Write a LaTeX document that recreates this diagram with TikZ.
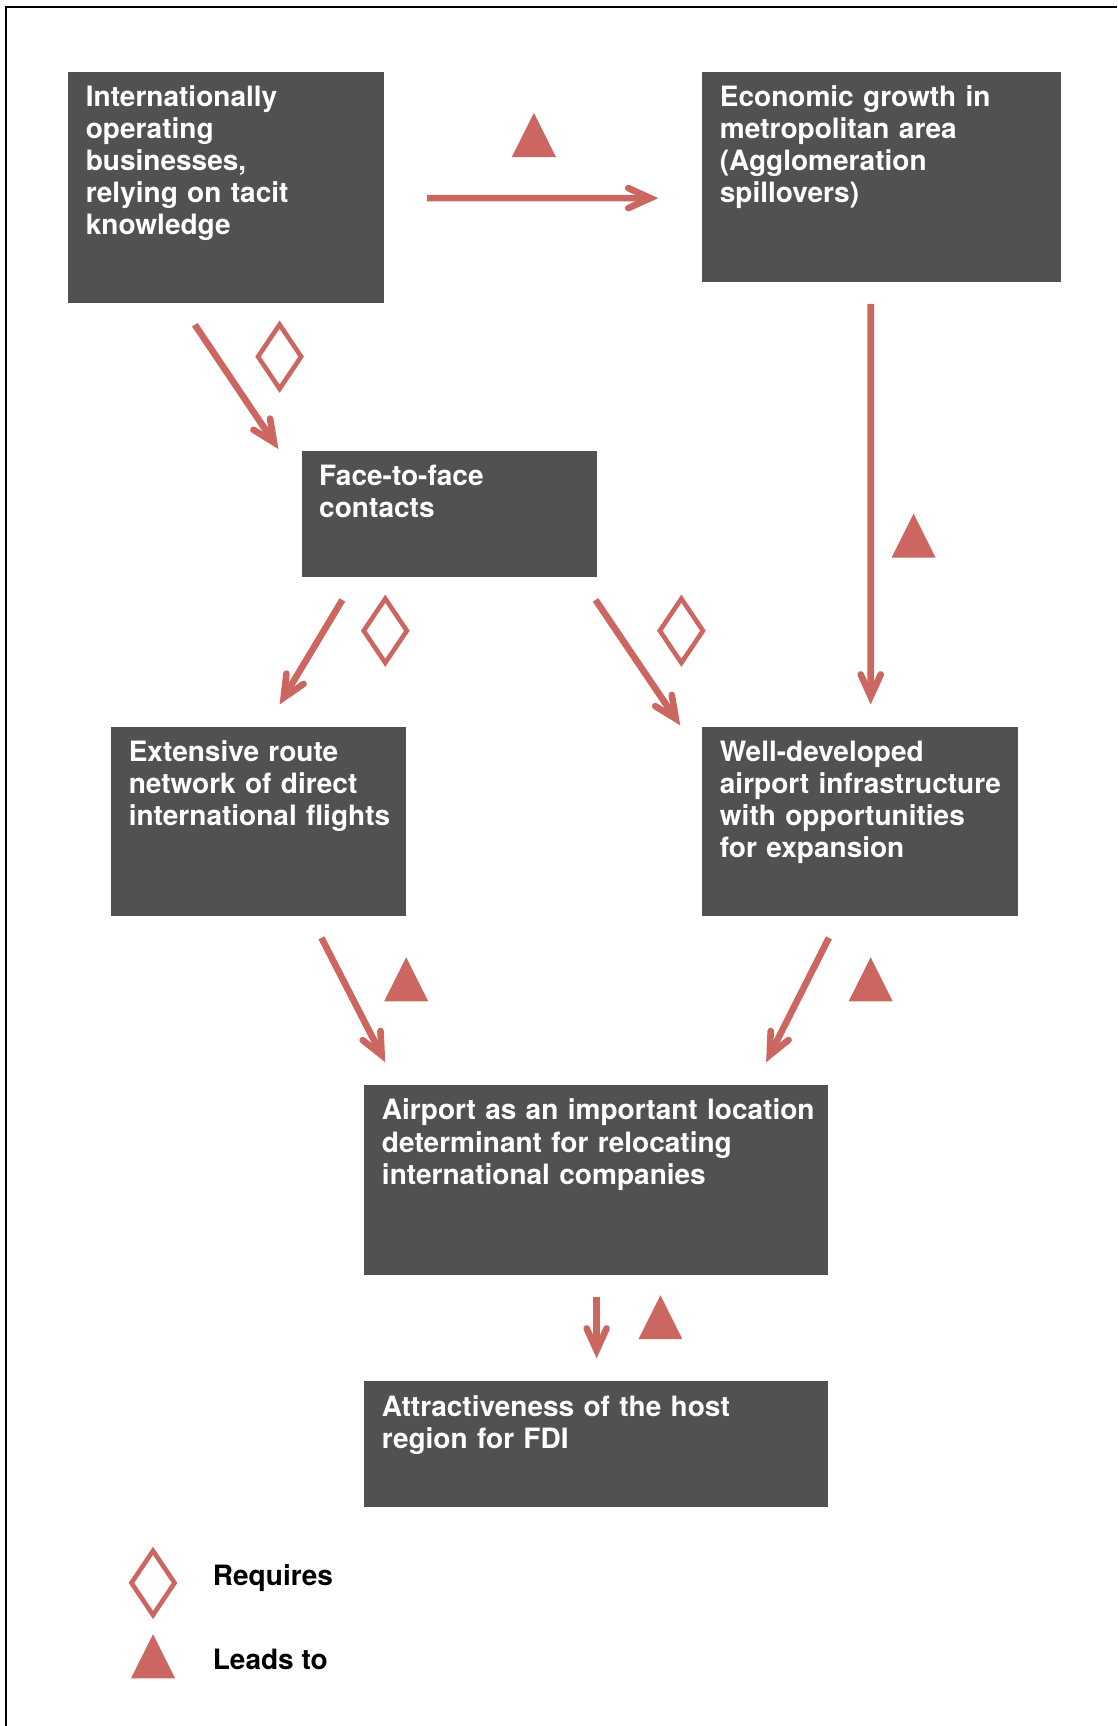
\documentclass[tikz,border=0pt]{standalone}
\usepackage{fontspec}
\setmainfont{TeX Gyre Heros}
\usepackage{tikz}
\usetikzlibrary{arrows.meta,shapes.geometric,calc}
\definecolor{boxgrey}{HTML}{515151}
\definecolor{markred}{HTML}{CC6660}
\tikzset{
	box/.style={fill=boxgrey, text=white, font=\fontsize{14}{16}\selectfont\bfseries, execute at begin node={\hyphenpenalty=10000\relax}, align=left, anchor=north west, inner xsep=8.8pt, inner ysep=0pt, outer sep=0pt, text height=17.3pt},
	flow/.style={draw=markred, line width=3.3pt, -{Straight Barb[length=11pt,width=10pt,line cap=round]}},
	needs/.style={diamond, draw=markred, fill=white, line width=2.3pt, minimum width=22.5pt, minimum height=33pt, inner sep=0pt},
	leads/.style={isosceles triangle, isosceles triangle stretches, shape border rotate=90, fill=markred, minimum width=22pt, minimum height=22pt, inner sep=0pt, anchor=south},
	key/.style={font=\fontsize{14}{16}\selectfont\bfseries, anchor=base west, inner sep=0pt}
}
\begin{document}
\begin{tikzpicture}[x=0.55pt, y=-0.55pt]
		\useasboundingbox (0,0) rectangle (1015,1568);
		\draw[line width=1pt] (5,1568) -- (5,6) -- (1015,6);
		\node[box, text width=140.25pt, text depth=98.2pt] (biz) at (62,65) {Internationally\\operating\\businesses,\\relying on tacit\\knowledge};
		\node[box, text width=161.7pt, text depth=87.75pt] (growth) at (638,65) {Economic growth in\\metropolitan area\\(Agglomeration\\spillovers)};
		\node[box, text width=129.8pt, text depth=45.4pt] (face) at (274,410) {Face-to-face\\contacts};
		\node[box, text width=129.8pt, text depth=77.3pt] (route) at (101,660) {Extensive route\\network of direct\\international~flights};
		\node[box, text width=140.25pt, text depth=77.3pt] (infra) at (638,660) {Well-developed\\airport~infrastructure\\with opportunities\\for expansion};
		\node[box, text width=213.95pt, text depth=77.3pt] (location) at (331,986) {Airport~as~an~important~location\\determinant for relocating\\international companies};
		\node[box, text width=213.95pt, text depth=45.4pt] (fdi) at (331,1255) {Attractiveness of the host\\region for FDI};
		\draw[flow] ($(biz.east)+(39,10)$) -- ($(growth.west)+(-40,19.5)$);
		\draw[flow] ($(biz.south)+(-28.5,20)$) -- ($(face.north west)+(-21,-2)$);
		\draw[flow] ($(growth.south)+(-10,20)$) -- ($(infra.north)+(9.5,-20)$);
		\draw[flow] ($(face.south)+(-97,21)$) -- ($(route.north)+(19,-20)$);
		\draw[flow] ($(face.south east)+(-1,21)$) -- ($(infra.north west)+(-20,-1)$);
		\draw[flow] ($(route.south)+(57,20)$) -- ($(location.north west)+(19,-21)$);
		\draw[flow] ($(infra.south)+(-28.5,20)$) -- ($(location.north east)+(-56,-21)$);
		\draw[flow] ($(location.south)+(0.5,20)$) -- ($(fdi.north)+(0.5,-21)$);
		\node[leads] (leadsA) at (485,143) {};
		\node[needs] (needsA) at (254,324) {};
		\node[leads] (leadsB) at (830,507) {};
		\node[needs] (needsB) at (350,573) {};
		\node[needs] (needsC) at (619,573) {};
		\node[leads] (leadsC) at (369,910) {};
		\node[leads] (leadsD) at (791,910) {};
		\node[leads] (leadsE) at (600,1217) {};
		\node[needs] (keyneeds) at (139,1438) {};
		\node[leads] (keyleads) at (139,1525) {};
		\node[key] (keyreq) at (193,1440) {Requires};
		\node[key] (keylead) at (193,1517) {Leads to};
	\end{tikzpicture}
\end{document}
